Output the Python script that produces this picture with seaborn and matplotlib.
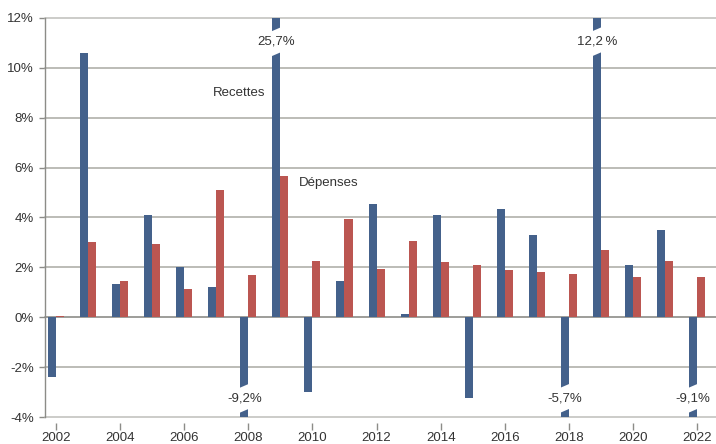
import numpy as np
import pandas as pd
import matplotlib
matplotlib.use("Agg")
import matplotlib.pyplot as plt
from matplotlib.patches import Polygon
import seaborn as sns

# ── Data ──────────────────────────────────────────────────
years = list(range(2002, 2023))
recettes = [-2.4, 10.6, 1.35, 4.1, 2.0, 1.2, -9.2, 25.7, -3.0, 1.45, 4.55,
            0.15, 4.1, -3.25, 4.35, 3.3, -5.7, 12.2, 2.1, 3.5, -9.1]
depenses = [0.05, 3.0, 1.45, 2.95, 1.15, 5.1, 1.7, 5.65, 2.25, 3.95, 1.95,
            3.05, 2.2, 2.1, 1.9, 1.8, 1.75, 2.7, 1.6, 2.25, 1.6]
series_names = ["Recettes", "Dépenses"]
y_ticks = [-4, -2, 0, 2, 4, 6, 8, 10, 12]

BLUE = "#44618b"
RED = "#bb5651"
TEXT = "#333333"
GRID = "#b0b0aa"

df = pd.DataFrame({
    "year": [str(y) for y in years] * 2,
    "value": recettes + depenses,
    "serie": [series_names[0]] * len(years) + [series_names[1]] * len(years),
})

sns.set_theme(style="white")
plt.rcParams["font.family"] = ["Liberation Sans", "DejaVu Sans"]

fig = plt.figure(figsize=(7.16, 4.44), dpi=100, facecolor="white")
ax = fig.add_axes([45 / 716, 1 - 417 / 444, 1 - 45 / 716, (417 - 18) / 444])

sns.barplot(data=df, x="year", y="value", hue="serie", palette=[BLUE, RED],
            width=0.5, gap=0, dodge=True, legend=False, saturation=1,
            errorbar=None, linewidth=0, edgecolor="none", ax=ax, zorder=2)

ymin, ymax = y_ticks[0], y_ticks[-1]
ax.set_ylim(ymin, ymax)
ax.set_xlim(-0.343, 20.59)

# horizontal grid lines
for t in y_ticks:
    col = "#8c8c88" if t == 0 else (GRID if t not in (ymin, ymax) else "#c4c4c0")
    ax.axhline(t, color=col, lw=1.2, zorder=1, clip_on=False)

for s in ["top", "right", "bottom"]:
    ax.spines[s].set_visible(False)
ax.spines["left"].set_color("#8c8c88")
ax.spines["left"].set_linewidth(1.0)
ax.spines["bottom"].set_position(("outward", 4))

ax.set_yticks(y_ticks)
ax.set_yticklabels([f"{t}%" for t in y_ticks])
ax.set_xticks(range(0, len(years), 2))
ax.set_xticklabels([str(y) for y in years[::2]])
ax.tick_params(axis="y", length=4, width=1, color="#8c8c88", pad=4,
               labelsize=9.5, labelcolor=TEXT, left=True)
ax.tick_params(axis="x", length=5, width=1, color="#8c8c88", pad=1.5,
               labelsize=9.5, labelcolor=TEXT, bottom=True)
ax.set_xlabel("")
ax.set_ylabel("")

# broken bars: white slanted gap + value label
for cont in ax.containers:
    for bar in cont:
        h = bar.get_height()
        if ymin <= h <= ymax:
            continue
        x0 = bar.get_x() - 0.02
        x1 = bar.get_x() + bar.get_width() + 0.02
        yc = ymax - 0.95 if h > ymax else ymin + 0.75
        half, sl = 0.5, 0.08
        gap = Polygon([(x0, yc - half - sl), (x1, yc - half + sl),
                       (x1, yc + half + sl), (x0, yc + half - sl)],
                      closed=True, facecolor="white", edgecolor="none", zorder=3)
        ax.add_patch(gap)
        lab = f"{h:.1f}".replace(".", ",") + ("\u2009%" if h == 12.2 else "%")
        ax.text(bar.get_x() + bar.get_width() / 2, yc, lab, ha="center",
                va="center", fontsize=9.5, color=TEXT, zorder=4)

ax.text(5.7, 9.0, series_names[0], ha="center", va="center", fontsize=9.5, color=TEXT)
ax.text(8.5, 5.4, series_names[1], ha="center", va="center", fontsize=9.5, color=TEXT)

fig.savefig("out.png", dpi=100, facecolor="white")
plt.close("all")
